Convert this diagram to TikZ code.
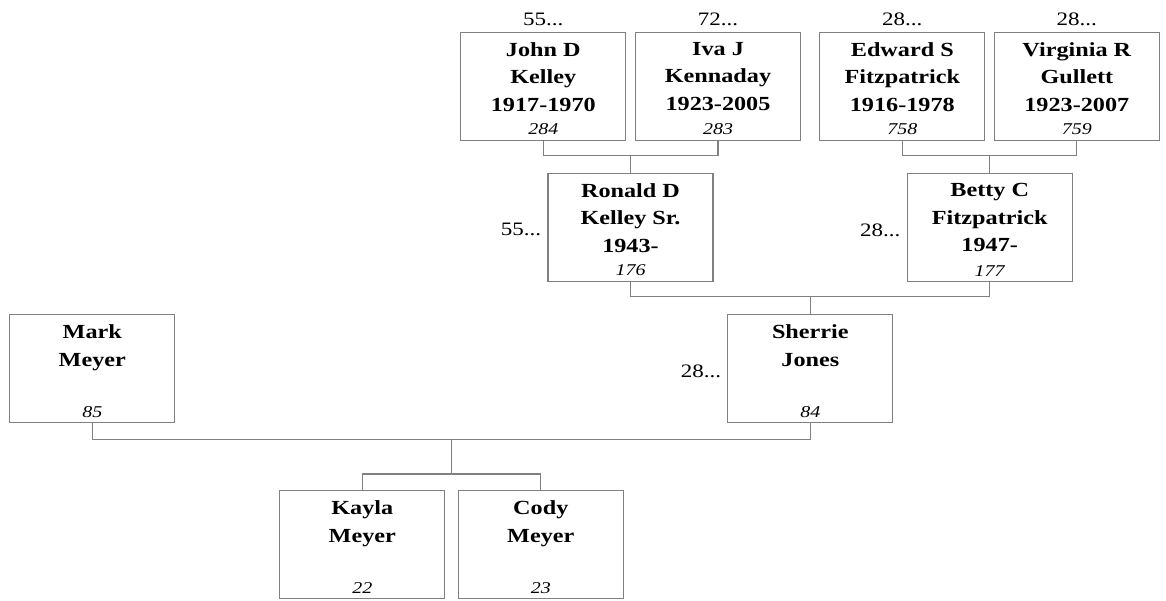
\documentclass[tikz,border=0pt]{standalone}
\usepackage{fontspec}
\setmainfont[FakeStretch=1.21]{Liberation Serif}
\usepackage{tikz}
\begin{document}
\begin{tikzpicture}[x=1pt,y=-1pt]
\tikzstyle{person}=[rectangle,draw=gray,line width=1.2pt,minimum width=165pt,minimum height=108pt,inner sep=0pt]
\tikzstyle{pname}=[anchor=north,align=center,inner sep=0pt,yshift=-10.5pt,font=\fontsize{20}{27.5}\selectfont\bfseries]
\tikzstyle{num}=[anchor=south,inner sep=0pt,yshift=5.7pt,font=\fontsize{16.5}{16.5}\selectfont\itshape]
\tikzstyle{more}=[inner sep=0pt,font=\fontsize{19}{19}\selectfont]
\tikzstyle{moretop}=[more,anchor=south,yshift=5.7pt]
\tikzstyle{moreleft}=[more,anchor=east,xshift=-6pt,yshift=-2.5pt]
\tikzstyle{link}=[draw=gray,line width=1.2pt]
\useasboundingbox (0,0) rectangle (1166,601);
\node[person,label={[pname]north:{John D\\Kelley\\1917-1970}},label={[num]south:284},label={[moretop]north:55...}] (john) at (543.3,86.2) {};
\node[person,label={[pname]north:{Iva J\\Kennaday\\1923-2005}},label={[num]south:283},label={[moretop]north:72...}] (iva) at (718,86.2) {};
\node[person,label={[pname]north:{Edward S\\Fitzpatrick\\1916-1978}},label={[num]south:758},label={[moretop]north:28...}] (edward) at (902.3,86.2) {};
\node[person,label={[pname]north:{Virginia R\\Gullett\\1923-2007}},label={[num]south:759},label={[moretop]north:28...}] (virginia) at (1076.8,86.2) {};
\node[person,label={[pname]north:{Ronald D\\Kelley Sr.\\1943-}},label={[num]south:176},label={[moreleft]west:55...}] (ronald) at (630.5,227.4) {};
\node[person,label={[pname]north:{Betty C\\Fitzpatrick\\1947-}},label={[num]south:177},label={[moreleft]west:28...}] (betty) at (989.7,227.4) {};
\node[person,label={[pname]north:{Sherrie\\Jones}},label={[num]south:84},label={[moreleft]west:28...}] (sherrie) at (810.3,368.7) {};
\node[person,label={[pname]north:{Mark\\Meyer}},label={[num]south:85}] (mark) at (92.3,368.7) {};
\node[person,label={[pname]north:{Kayla\\Meyer}},label={[num]south:22}] (kayla) at (362.3,544.7) {};
\node[person,label={[pname]north:{Cody\\Meyer}},label={[num]south:23}] (cody) at (540.8,544.7) {};
\coordinate (kk) at (630.5,155.5);
\draw[link] (john.south) |- (kk) -| (iva.south);
\draw[link] (kk) -- (ronald.north);
\coordinate (fg) at (989.7,155.5);
\draw[link] (edward.south) |- (fg) -| (virginia.south);
\draw[link] (fg) -- (betty.north);
\coordinate (kf) at (810.3,296.7);
\draw[link] (ronald.south) |- (kf) -| (betty.south);
\draw[link] (kf) -- (sherrie.north);
\coordinate (mj) at (451.5,439.3);
\draw[link] (mark.south) |- (mj) -| (sherrie.south);
\coordinate (kc) at (451.5,474);
\draw[link] (mj) -- (kc);
\draw[link] (kayla.north) |- (kc) -| (cody.north);
\end{tikzpicture}
\end{document}
